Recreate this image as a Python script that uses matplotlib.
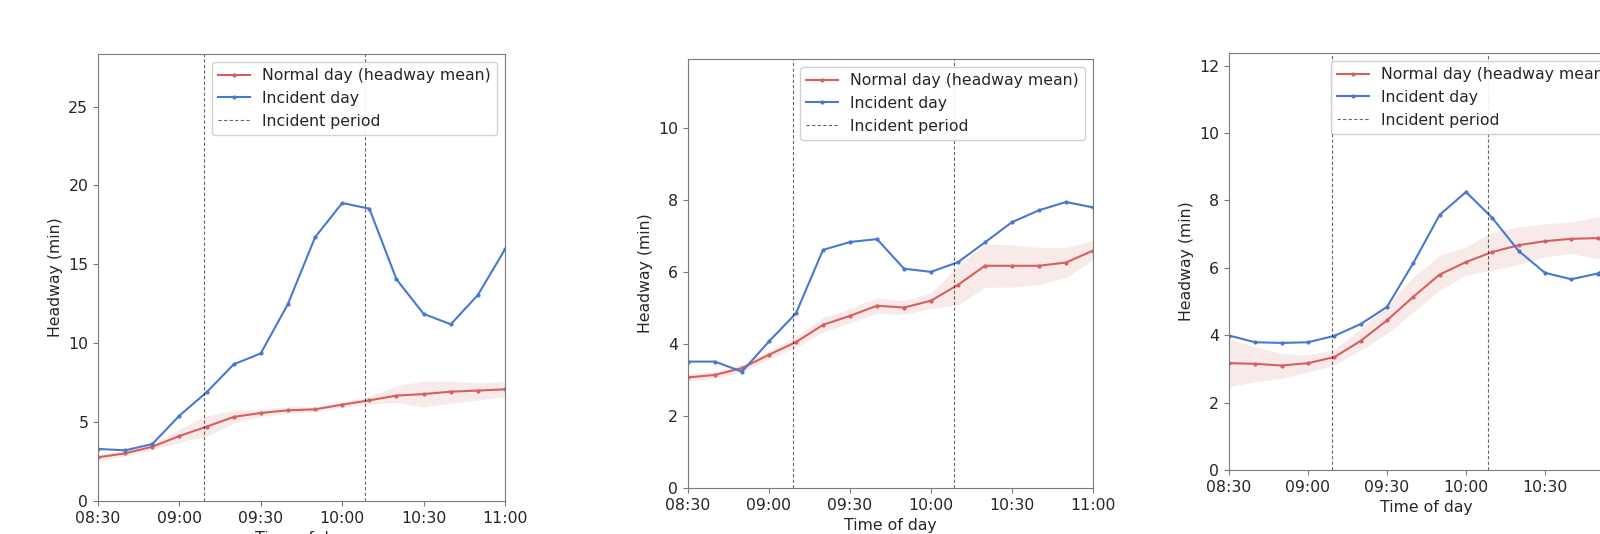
#!/usr/bin/env python3
"""Headway on a normal day vs an incident day, three stations side by side."""
import matplotlib
matplotlib.use("Agg")
import matplotlib.pyplot as plt  # noqa: E402
import matplotlib.dates as mdates  # noqa: E402
import pandas as pd  # noqa: E402

TIMES = ["08:30", "08:40", "08:50", "09:00", "09:10", "09:20", "09:30", "09:40",
         "09:50", "10:00", "10:10", "10:20", "10:30", "10:40", "10:50", "11:00"]
INCIDENT_START = "09:09"
INCIDENT_END = "10:08:30"

# panel 1
NORMAL_1 = [2.77, 3.02, 3.44, 4.12, 4.71, 5.33, 5.58, 5.75,
            5.81, 6.11, 6.38, 6.68, 6.78, 6.93, 7.00, 7.08]
NORMAL_1_LO = [2.55, 2.85, 3.25, 3.70, 4.10, 4.95, 5.35, 5.55,
               5.65, 5.95, 6.15, 6.25, 5.95, 6.20, 6.40, 6.60]
NORMAL_1_HI = [2.95, 3.20, 3.65, 4.55, 5.40, 5.75, 5.80, 5.95,
               5.95, 6.25, 6.65, 7.30, 7.60, 7.60, 7.50, 7.55]
INCIDENT_1 = [3.30, 3.21, 3.61, 5.41, 6.89, 8.66, 9.36, 12.49,
              16.72, 18.89, 18.53, 14.05, 11.86, 11.20, 13.06, 15.96]

# panel 2
NORMAL_2 = [3.07, 3.14, 3.33, 3.70, 4.05, 4.53, 4.78, 5.06,
            5.01, 5.20, 5.64, 6.17, 6.17, 6.17, 6.26, 6.59]
NORMAL_2_LO = [2.97, 3.04, 3.23, 3.58, 3.90, 4.33, 4.58, 4.85,
               4.82, 4.98, 5.08, 5.57, 5.58, 5.65, 5.85, 6.33]
NORMAL_2_HI = [3.17, 3.24, 3.43, 3.82, 4.20, 4.73, 4.98, 5.28,
               5.20, 5.42, 6.15, 6.78, 6.75, 6.68, 6.68, 6.87]
INCIDENT_2 = [3.51, 3.51, 3.23, 4.07, 4.85, 6.61, 6.83, 6.91,
              6.09, 6.00, 6.27, 6.82, 7.38, 7.71, 7.94, 7.79]

# panel 3
NORMAL_3 = [3.17, 3.15, 3.10, 3.17, 3.35, 3.83, 4.44, 5.14,
            5.80, 6.17, 6.47, 6.67, 6.79, 6.86, 6.88, 6.90]
NORMAL_3_LO = [2.47, 2.62, 2.72, 2.91, 3.11, 3.56, 4.05, 4.69,
               5.33, 5.78, 5.93, 6.10, 6.32, 6.42, 6.27, 6.20]
NORMAL_3_HI = [3.90, 3.65, 3.46, 3.41, 3.58, 4.20, 4.89, 5.73,
               6.37, 6.62, 7.06, 7.21, 7.31, 7.36, 7.51, 7.60]
INCIDENT_3 = [3.99, 3.79, 3.77, 3.79, 3.98, 4.33, 4.84, 6.14,
              7.57, 8.25, 7.48, 6.50, 5.85, 5.66, 5.83, 6.30]

RED = "#d65f5f"
BLUE = "#4878d0"
FONT_SIZE = 11.3

# axes rectangles in figure fractions (each panel sits a little differently)
PANEL_RECTS = [
    (0.06125, 0.0618, 0.2544, 0.8371),
    (0.4300, 0.0861, 0.2531, 0.8034),
    (0.7681, 0.1199, 0.2469, 0.7809),
]

plt.rcParams.update({
    "font.family": "DejaVu Sans",
    "font.size": FONT_SIZE,
    "axes.edgecolor": "#7a7a7a",
    "text.color": "#262626",
    "axes.labelcolor": "#262626",
    "xtick.color": "#7a7a7a",
    "ytick.color": "#7a7a7a",
    "xtick.labelcolor": "#262626",
    "ytick.labelcolor": "#262626",
})


def _draw(ax, t, normal, lo, hi, incident):
    ax.fill_between(t, lo, hi, color=RED, alpha=0.13, linewidth=0)
    ax.plot(t, normal, color=RED, linewidth=1.5, marker=".", markersize=4,
            label="Normal day (headway mean)")
    ax.plot(t, incident, color=BLUE, linewidth=1.5, marker=".", markersize=4,
            label="Incident day")
    day = "2020-01-01 "
    for i, tt in enumerate((INCIDENT_START, INCIDENT_END)):
        ax.axvline(pd.Timestamp(day + tt), color="black",
                   linestyle=(0, (3, 2)), linewidth=0.8, alpha=0.6,
                   label="Incident period" if i == 0 else None)
    ax.set_xlim(t[0], t[-1])
    ax.set_ylim(0, max(incident) * 1.5)
    ax.xaxis.set_major_locator(mdates.MinuteLocator(byminute=[0, 30]))
    ax.xaxis.set_major_formatter(mdates.DateFormatter("%H:%M"))
    ax.set_xlabel("Time of day")
    ax.set_ylabel("Headway (min)")
    ax.legend(loc="upper right", fontsize=FONT_SIZE, framealpha=0.9)


def main():
    t = pd.to_datetime(["2020-01-01 " + s for s in TIMES])
    fig = plt.figure(figsize=(16, 5.34), dpi=100)
    panels = [
        (NORMAL_1, NORMAL_1_LO, NORMAL_1_HI, INCIDENT_1),
        (NORMAL_2, NORMAL_2_LO, NORMAL_2_HI, INCIDENT_2),
        (NORMAL_3, NORMAL_3_LO, NORMAL_3_HI, INCIDENT_3),
    ]
    for rect, (normal, lo, hi, incident) in zip(PANEL_RECTS, panels):
        ax = fig.add_axes(rect)
        _draw(ax, t, normal, lo, hi, incident)
    fig.savefig("out.png", dpi=100)


if __name__ == "__main__":
    main()
